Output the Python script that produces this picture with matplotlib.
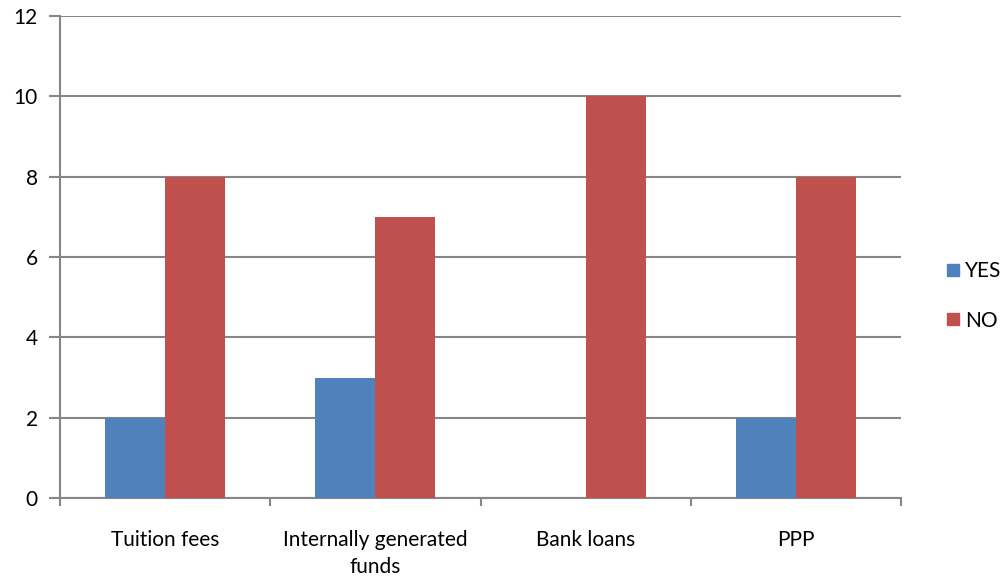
import numpy as np
import matplotlib
matplotlib.use('Agg')
import matplotlib.pyplot as plt
from matplotlib.patches import Patch

plt.rcParams['font.family'] = ['Lato', 'DejaVu Sans']

# funding sources
categories = ['Tuition fees', 'Internally generated\nfunds', 'Bank loans', 'PPP']
yes_vals = [2, 3, 0, 2]
no_vals = [8, 7, 10, 8]
series_names = ['YES', 'NO']

blue = '#4F81BD'
red = '#C0504D'
grid_col = '#868686'
fs = 15

fig = plt.figure(figsize=(10, 5.77), dpi=100)
ax = fig.add_axes([0.060, 0.137, 0.841, 0.835])

x = np.arange(len(categories))
w = 0.285
ax.bar(x - w / 2, yes_vals, width=w, color=blue, zorder=3)
ax.bar(x + w / 2, no_vals, width=w, color=red, zorder=3)

ax.set_xlim(-0.5, len(categories) - 0.5)
ax.set_ylim(0, 12)
ax.set_yticks(np.arange(0, 13, 2))
ax.yaxis.grid(True, color=grid_col, linewidth=1.5, zorder=0)

# category boundaries get the tick marks, labels sit in the middle
ax.set_xticks(np.arange(-0.5, len(categories), 1.0))
ax.set_xticklabels([])
ax.set_xticks(x, minor=True)
ax.set_xticklabels(categories, minor=True, fontsize=fs, linespacing=1.45)
ax.tick_params(axis='x', which='minor', length=0, pad=23)
ax.tick_params(axis='x', which='major', length=6, width=1.5, color=grid_col)
ax.tick_params(axis='y', length=8, width=1.5, color=grid_col, labelsize=fs, pad=8)

for side in ['top', 'right']:
    ax.spines[side].set_visible(False)
for side in ['left', 'bottom']:
    ax.spines[side].set_color(grid_col)
    ax.spines[side].set_linewidth(1.5)

handles = [Patch(color=blue, label=series_names[0]),
           Patch(color=red, label=series_names[1])]
fig.legend(handles=handles, loc='center left', bbox_to_anchor=(0.937, 0.487),
           frameon=False, fontsize=fs, handlelength=0.55, handleheight=0.55,
           handletextpad=0.3, labelspacing=1.4, borderpad=0)

fig.savefig('out.png', dpi=100)
